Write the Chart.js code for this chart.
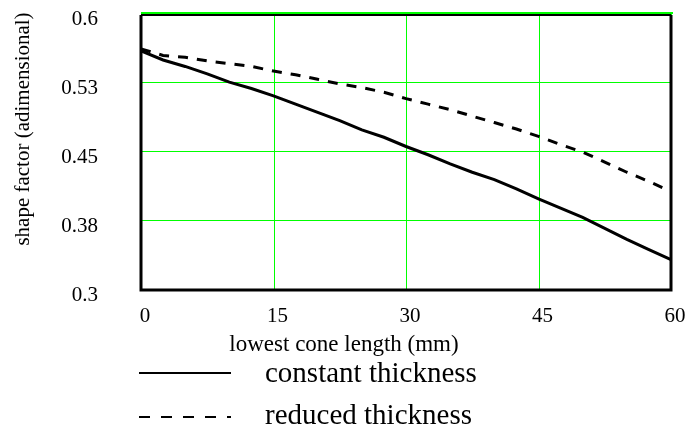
<!DOCTYPE html>
<html>
<head>
<meta charset="utf-8">
<script src="https://cdn.jsdelivr.net/npm/chart.js@4"></script>
<style>
html,body{margin:0;padding:0;background:#fff;}
#wrap{width:686px;height:428px;position:relative;}
</style>
</head>
<body>
<div id="wrap"><canvas id="c" width="686" height="428"></canvas></div>
<script>
const xValues = [0,2.5,5,7.5,10,12.5,15,17.5,20,22.5,25,27.5,30,32.5,35,37.5,40,42.5,45,47.5,50,52.5,55,57.5,60];
const constantThickness = [0.560,0.550,0.543,0.535,0.526,0.519,0.511,0.502,0.493,0.484,0.474,0.466,0.456,0.447,0.437,0.428,0.420,0.410,0.399,0.389,0.379,0.367,0.355,0.344,0.333];
const reducedThickness = [0.562,0.555,0.553,0.549,0.546,0.543,0.538,0.534,0.529,0.524,0.520,0.515,0.508,0.502,0.496,0.489,0.482,0.475,0.467,0.458,0.450,0.439,0.428,0.418,0.407];
const xTicks = [0,15,30,45,60];
const yTicks = [0.3,0.375,0.45,0.525,0.6];
const yTickLabels = ['0.3','0.38','0.45','0.53','0.6'];
const xTitle = 'lowest cone length (mm)';
const yTitle = 'shape factor (adimensional)';
const seriesNames = ['constant thickness','reduced thickness'];

const FONT = '"Liberation Serif","Times New Roman",serif';

const overlay = {
  id:'overlay',
  beforeDatasetsDraw(chart){
    const ctx = chart.ctx, a = chart.chartArea;
    const xs = chart.scales.x, ys = chart.scales.y;
    ctx.save();
    ctx.fillStyle = '#00ff00';
    xTicks.forEach(v=>{
      const px = Math.round(xs.getPixelForValue(v));
      ctx.fillRect(px, a.top-1, 1, a.bottom - a.top + 1);
    });
    yTicks.forEach(v=>{
      const py = Math.round(ys.getPixelForValue(v));
      ctx.fillRect(a.left, py-1, a.right - a.left, 1);
    });
    ctx.fillRect(a.left, a.top-2, a.right-a.left+2, 2);
    ctx.restore();
  },
  afterDatasetsDraw(chart){
    const ctx = chart.ctx, a = chart.chartArea;
    ctx.save();
    ctx.strokeStyle = '#000';
    ctx.lineWidth = 3;
    ctx.beginPath();
    ctx.moveTo(a.left, a.top+1);
    ctx.lineTo(a.left, a.bottom);
    ctx.lineTo(a.right, a.bottom);
    ctx.lineTo(a.right, a.top+1);
    ctx.stroke();
    ctx.lineWidth = 2;
    ctx.beginPath();
    ctx.moveTo(a.left, a.top+1);
    ctx.lineTo(a.right, a.top+1);
    ctx.stroke();
    ctx.restore();
  },
  afterDraw(chart){
    const ctx = chart.ctx;
    ctx.save();
    ctx.fillStyle = '#000';
    ctx.textBaseline = 'middle';
    ctx.textAlign = 'center';
    ctx.font = '23px ' + FONT;
    ctx.fillText(xTitle, 344, 345);
    ctx.font = '21px ' + FONT;
    ctx.save();
    ctx.translate(23, 129);
    ctx.rotate(-Math.PI/2);
    ctx.fillText(yTitle, 0, 0);
    ctx.restore();
    // legend
    ctx.strokeStyle = '#000';
    ctx.lineWidth = 2;
    ctx.beginPath();
    ctx.moveTo(139, 373); ctx.lineTo(231, 373); ctx.stroke();
    ctx.setLineDash([11,11]);
    ctx.beginPath();
    ctx.moveTo(139, 417); ctx.lineTo(231, 417); ctx.stroke();
    ctx.setLineDash([]);
    ctx.textAlign = 'left';
    ctx.textBaseline = 'alphabetic';
    ctx.font = '29px ' + FONT;
    ctx.fillText(seriesNames[0], 265, 382);
    ctx.fillText(seriesNames[1], 265, 424);
    ctx.restore();
  }
};

new Chart(document.getElementById('c'), {
  type:'line',
  data:{
    datasets:[
      {label:seriesNames[0], data:xValues.map((x,i)=>({x, y:constantThickness[i]})), borderColor:'#000', borderWidth:3, pointRadius:0, tension:0, fill:false},
      {label:seriesNames[1], data:xValues.map((x,i)=>({x, y:reducedThickness[i]})), borderColor:'#000', borderWidth:3, borderDash:[10,9], pointRadius:0, tension:0, fill:false}
    ]
  },
  options:{
    responsive:false,
    animation:false,
    layout:{padding:{left:0, right:15, top:14, bottom:0}},
    plugins:{legend:{display:false}, tooltip:{enabled:false}, title:{display:false}},
    scales:{
      x:{
        type:'linear', min:0, max:60,
        afterBuildTicks(s){ s.ticks = xTicks.map(v=>({value:v})); },
        afterFit(s){ s.height = 138; s.paddingLeft = 0; s.paddingRight = 0; },
        grid:{display:false, drawTicks:false},
        border:{display:false},
        ticks:{color:'#000', font:{family:FONT, size:21}, padding:14, labelOffset:4, maxRotation:0,
          callback:(v)=>String(v)}
      },
      y:{
        type:'linear', min:0.3, max:0.6,
        afterBuildTicks(s){ s.ticks = yTicks.map(v=>({value:v})); },
        afterFit(s){ s.width = 141; s.paddingTop = 0; s.paddingBottom = 0; },
        grid:{display:false, drawTicks:false},
        border:{display:false},
        ticks:{color:'#000', font:{family:FONT, size:21}, padding:43, labelOffset:5,
          callback:(v,i)=>yTickLabels[i]}
      }
    }
  },
  plugins:[overlay]
});
</script>
</body>
</html>
